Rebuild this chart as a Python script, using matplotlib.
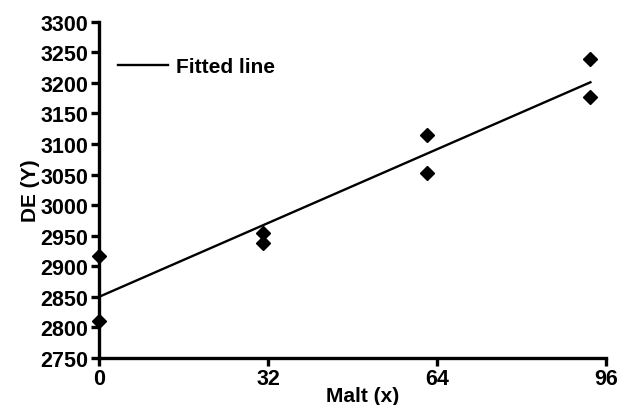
import matplotlib.pyplot as plt
import numpy as np

plt.rcParams['font.family'] = ['Liberation Sans', 'DejaVu Sans']
plt.rcParams['font.weight'] = 'bold'

malt = [0, 0, 31, 31, 62, 62, 93, 93]
de = [2916, 2811, 2955, 2938, 3115, 3052, 3239, 3177]
x_ticks = [0, 32, 64, 96]
y_ticks = list(range(2750, 3301, 50))

# least squares fit
slope, intercept = np.polyfit(malt, de, 1)
x_line = np.array([0, max(malt)])
y_line = intercept + slope * x_line

fig = plt.figure(figsize=(6.18, 4.06), dpi=100)
ax = fig.add_axes([0.160, 0.116, 0.821, 0.828])

ax.plot(x_line, y_line, color='black', lw=1.7, label='Fitted line', zorder=3)
ax.plot(malt, de, 'D', color='black', ms=7.5, clip_on=False, zorder=4)

ax.set_xlim(0, 96)
ax.set_ylim(2750, 3300)
ax.set_xticks(x_ticks)
ax.set_yticks(y_ticks)

for s in ['top', 'right']:
    ax.spines[s].set_visible(False)
for s in ['left', 'bottom']:
    ax.spines[s].set_linewidth(2.4)
ax.tick_params(width=2.4, length=6, labelsize=15.5, pad=1.5)

ax.set_xlabel('Malt (x)', fontsize=15, fontweight='bold')
ax.xaxis.set_label_coords(0.52, -0.085)
ax.set_ylabel('DE (Y)', fontsize=15, fontweight='bold', labelpad=0)

ax.legend(loc='upper left', frameon=False, fontsize=15, handlelength=2.4,
          handletextpad=0.4, bbox_to_anchor=(0.0, 0.95))

fig.savefig('out.png', dpi=100)
